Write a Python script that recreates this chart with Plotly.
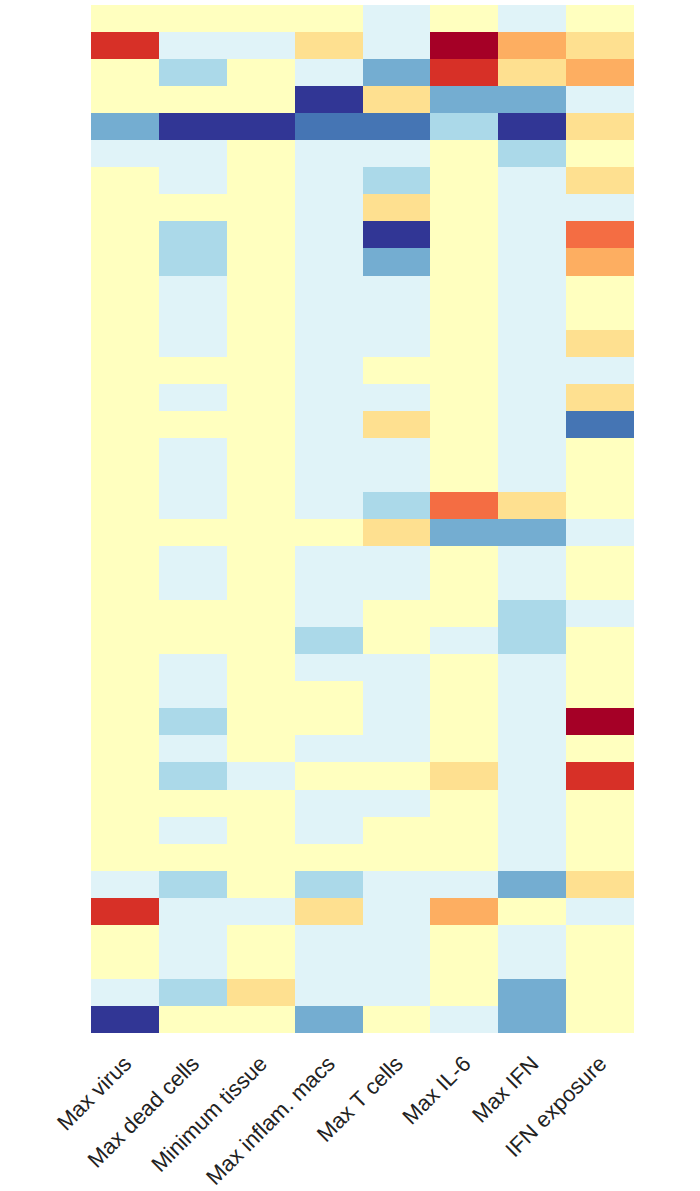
import plotly.graph_objects as go

columns = ["Max virus", "Max dead cells", "Minimum tissue", "Max inflam. macs",
           "Max T cells", "Max IL-6", "Max IFN", "IFN exposure"]

# discrete levels -5..5 (RdYlBu, blue = low, red = high)
max_virus      = [0, 4, 0, 0, -3, -1, 0, 0, 0, 0, 0, 0, 0, 0, 0, 0, 0, 0, 0, 0, 0, 0, 0, 0, 0, 0, 0, 0, 0, 0, 0, 0, -1, 4, 0, 0, -1, -5]
max_dead       = [0, -1, -2, 0, -5, -1, -1, 0, -2, -2, -1, -1, -1, 0, -1, 0, -1, -1, -1, 0, -1, -1, 0, 0, -1, -1, -2, -1, -2, 0, -1, 0, -2, -1, -1, -1, -2, 0]
min_tissue     = [0, -1, 0, 0, -5, 0, 0, 0, 0, 0, 0, 0, 0, 0, 0, 0, 0, 0, 0, 0, 0, 0, 0, 0, 0, 0, 0, 0, -1, 0, 0, 0, 0, -1, 0, 0, 1, 0]
max_macs       = [0, 1, -1, -5, -4, -1, -1, -1, -1, -1, -1, -1, -1, -1, -1, -1, -1, -1, -1, 0, -1, -1, -1, -2, -1, 0, 0, -1, 0, -1, -1, 0, -2, 1, -1, -1, -1, -3]
max_tcells     = [-1, -1, -3, 1, -4, -1, -2, 1, -5, -3, -1, -1, -1, 0, -1, 1, -1, -1, -2, 1, -1, -1, 0, 0, -1, -1, -1, -1, 0, -1, 0, 0, -1, -1, -1, -1, -1, 0]
max_il6        = [0, 5, 4, -3, -2, 0, 0, 0, 0, 0, 0, 0, 0, 0, 0, 0, 0, 0, 3, -3, 0, 0, 0, -1, 0, 0, 0, 0, 1, 0, 0, 0, -1, 2, 0, 0, 0, -1]
max_ifn        = [-1, 2, 1, -3, -5, -2, -1, -1, -1, -1, -1, -1, -1, -1, -1, -1, -1, -1, 1, -3, -1, -1, -2, -2, -1, -1, -1, -1, -1, -1, -1, -1, -3, 0, -1, -1, -3, -3]
ifn_exposure   = [0, 1, 2, -1, 1, 0, 1, -1, 3, 2, 0, 0, 1, -1, 1, -4, 0, 0, 0, -1, 0, 0, -1, 0, 0, 0, 5, 0, 4, 0, 0, 0, 1, -1, 0, 0, 0, 0]

series = [max_virus, max_dead, min_tissue, max_macs, max_tcells, max_il6, max_ifn, ifn_exposure]
n_rows = len(max_virus)
z = [[s[r] for s in series] for r in range(n_rows)]

palette = ["#313695", "#4575b4", "#74add1", "#abd9e9", "#e0f3f8", "#ffffbf",
           "#fee090", "#fdae61", "#f46d43", "#d73027", "#a50026"]
colorscale = [[i / 10, c] for i, c in enumerate(palette)]

fig = go.Figure(go.Heatmap(
    z=z, x=columns, y=list(range(n_rows)),
    colorscale=colorscale, zmin=-5, zmax=5, showscale=False,
    hoverongaps=False,
))

fig.update_layout(
    width=700, height=1191,
    margin=dict(l=91, r=66, t=5, b=158, autoexpand=False),
    paper_bgcolor="white", plot_bgcolor="white",
    font=dict(family="Liberation Sans, Arial, sans-serif", size=22, color="#222222"),
    xaxis=dict(tickangle=-45, showgrid=False, zeroline=False, ticks="outside",
               ticklen=8, tickcolor="rgba(0,0,0,0)", automargin=False,
               tickfont=dict(size=22, color="#222222")),
    yaxis=dict(autorange="reversed", showticklabels=False, showgrid=False,
               zeroline=False, ticks="", automargin=False),
)

fig.write_html("out.html", config={"displayModeBar": False},
               post_script="document.body.style.margin='0px';document.body.style.padding='0px';")
